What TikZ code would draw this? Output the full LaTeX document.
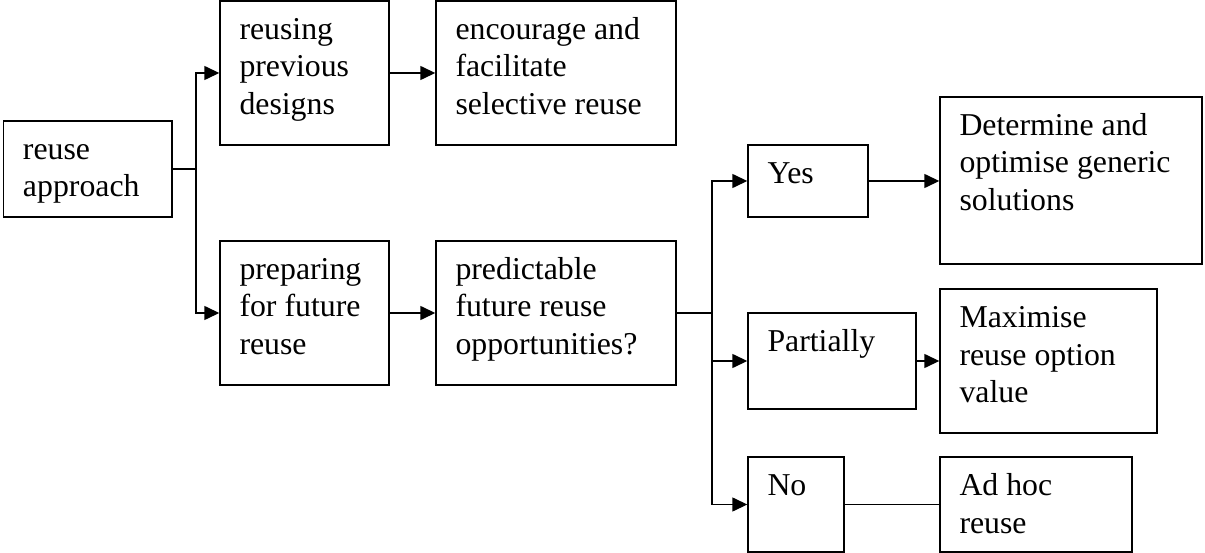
\documentclass[tikz,border=0pt]{standalone}
\usepackage{fontspec}
\setmainfont{Liberation Serif}
\usetikzlibrary{arrows.meta}
\tikzset{
  box/.style={draw, line width=1.4pt, rectangle, inner sep=0pt},
  txt/.style={anchor=north west, inner sep=0pt, align=left, font=\fontsize{31.8}{37.5}\selectfont},
  conn/.style={line width=1.4pt},
  arr/.style={conn, -{Triangle[length=15pt,width=14pt]}}
}
\newcommand\mybox[6]{%
  \node[box, minimum width=#4, minimum height=#5] (#1) at (#2,-#3) {};
  \node[txt] (#1t) at ([xshift=20pt,yshift=-12.75pt]#1.north west) {\strut #6};
}
\begin{document}
\begin{tikzpicture}[x=1pt,y=1pt]
\useasboundingbox (0,0) rectangle (1205,-553);
\mybox{A}{87.75}{169}{168.5pt}{96pt}{reuse\\approach}
\mybox{B}{304.5}{73}{169pt}{144pt}{reusing\\previous\\designs}
\mybox{C}{556}{73}{240pt}{144pt}{encourage and\\facilitate\\selective reuse}
\mybox{D}{304.5}{313}{169pt}{144pt}{preparing\\for future\\reuse}
\mybox{E}{556}{313}{240pt}{144pt}{predictable\\future reuse\\opportunities?}
\mybox{F}{808}{181}{120pt}{72pt}{Yes}
\mybox{G}{1071}{180.5}{262pt}{167pt}{Determine and\\optimise generic\\solutions}
\mybox{H}{832}{361}{168pt}{96pt}{Partially}
\mybox{I}{1048.5}{361}{217pt}{144pt}{Maximise\\reuse option\\value}
\mybox{J}{796}{504.5}{96pt}{95pt}{No}
\mybox{K}{1036}{504.5}{192pt}{95pt}{Ad hoc\\reuse}
\coordinate (j1) at (196,-169);
\coordinate (j2) at (712,-313);
\draw[conn] (A.east) -- (j1);
\draw[arr] (j1) |- (B.west);
\draw[arr] (j1) |- (D.west);
\draw[arr] (B.east) -- (C.west);
\draw[arr] (D.east) -- (E.west);
\draw[conn] (E.east) -- (j2);
\draw[arr] (j2) |- (F.west);
\draw[arr] (j2) |- (H.west);
\draw[arr] (j2) |- (J.west);
\draw[arr] (F.east) -- (G.west |- F.east);
\draw[arr] (H.east) -- (I.west);
\draw[conn] (J.east) -- (K.west);
\end{tikzpicture}
\end{document}
